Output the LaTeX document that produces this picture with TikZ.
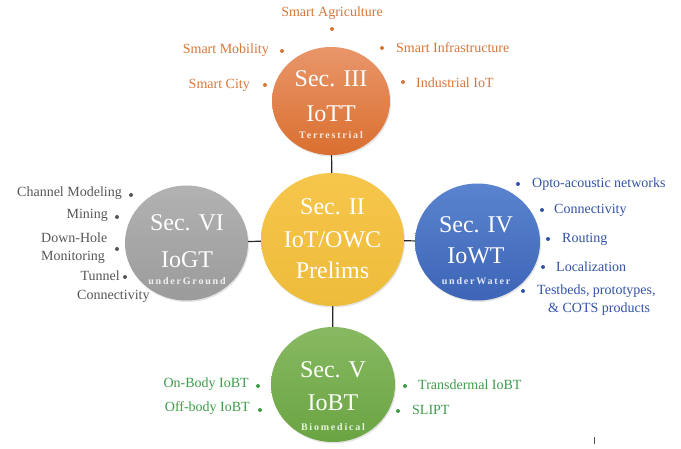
\documentclass[tikz,border=0pt]{standalone}
\usepackage{fontspec}
\setmainfont{Liberation Serif}
\usetikzlibrary{shapes.geometric,shadows}

\definecolor{orTop}{HTML}{E9966A}
\definecolor{orBot}{HTML}{DA6F2F}
\definecolor{yeTop}{HTML}{F6C64C}
\definecolor{yeBot}{HTML}{EEBC3A}
\definecolor{grTop}{HTML}{B2B2B2}
\definecolor{grBot}{HTML}{9B9B9B}
\definecolor{blTop}{HTML}{5A84CF}
\definecolor{blBot}{HTML}{3D64B6}
\definecolor{gnTop}{HTML}{88B962}
\definecolor{gnBot}{HTML}{6AA442}
\definecolor{orText}{HTML}{D6773C}
\definecolor{grText}{HTML}{575757}
\definecolor{blText}{HTML}{3253A6}
\definecolor{gnText}{HTML}{3E9C4A}

\begin{document}
\begin{tikzpicture}[x=1pt,y=-1pt,
  hub/.style={ellipse, inner sep=0pt,
    drop shadow={opacity=0.22,shadow xshift=1pt,shadow yshift=-1.5pt}},
  sectxt/.style={anchor=base, inner sep=0pt, text=white,
    font=\fontsize{24}{28}\selectfont},
  subtxt/.style={anchor=base, inner sep=0pt, text=white, text opacity=0.85,
    font=\fontsize{10}{12}\selectfont\bfseries\addfontfeature{LetterSpace=18}},
  lbl/.style={inner sep=0pt, font=\fontsize{14}{16}\selectfont},
  lblL/.style={lbl, anchor=base east},
  lblR/.style={lbl, anchor=base west},
  lblC/.style={lbl, anchor=base},
  dot/.style={circle, inner sep=0pt, minimum size=4pt},
  link/.style={draw=black!85, line width=1.2pt}]

\useasboundingbox[fill=white] (0,0) rectangle (681,449);

% section bubbles
\node[hub, top color=orTop, bottom color=orBot, minimum width=118pt, minimum height=108pt] (iott) at (331,101) {};
\node[hub, top color=yeTop, bottom color=yeBot, minimum width=143pt, minimum height=133pt] (prel) at (332.5,239.5) {};
\node[hub, top color=grTop, bottom color=grBot, minimum width=123pt, minimum height=115pt] (iogt) at (186.5,243) {};
\node[hub, top color=blTop, bottom color=blBot, minimum width=125pt, minimum height=117pt] (iowt) at (477.5,242) {};
\node[hub, top color=gnTop, bottom color=gnBot, minimum width=124pt, minimum height=115pt] (iobt) at (333,384.5) {};

% links from the preliminaries hub
\draw[link] (prel) -- (iott);
\draw[link] (prel) -- (iogt);
\draw[link] (prel) -- (iowt);
\draw[link] (prel) -- (iobt);

% bubble titles
\node[sectxt] (t3a) at (331,87) {Sec. III};
\node[sectxt] (t3b) at (331,122) {IoTT};
\node[subtxt] (t3c) at (331,139) {Terrestrial};

\node[sectxt] (t2a) at (332.5,215) {Sec. II};
\node[sectxt] (t2b) at (332.5,248) {IoT/OWC};
\node[sectxt] (t2c) at (332.5,279) {Prelims};

\node[sectxt] (t6a) at (187,231) {Sec. VI};
\node[sectxt] (t6b) at (187,268) {IoGT};
\node[subtxt] (t6c) at (187,285) {underGround};

\node[sectxt] (t4a) at (476,233) {Sec. IV};
\node[sectxt] (t4b) at (476,264) {IoWT};
\node[subtxt] (t4c) at (476,285) {underWater};

\node[sectxt] (t5a) at (333,378) {Sec. V};
\node[sectxt] (t5b) at (333,411) {IoBT};
\node[subtxt] (t5c) at (333,431) {Biomedical};

% terrestrial topics
\begin{scope}[every node/.append style={text=orText}]
\node[lblC] (o1) at (332,17) {Smart Agriculture};
\node[dot, fill=orText] (o1d) at (332,29) {};
\node[lblL] (o2) at (269,54) {Smart Mobility};
\node[dot, fill=orText] (o2d) at (282,51) {};
\node[lblL] (o3) at (250,89) {Smart City};
\node[dot, fill=orText] (o3d) at (265,85) {};
\node[lblR] (o4) at (396,53) {Smart Infrastructure};
\node[dot, fill=orText] (o4d) at (382,48) {};
\node[lblR] (o5) at (416,88) {Industrial IoT};
\node[dot, fill=orText] (o5d) at (403,82) {};
\end{scope}

% underground topics
\begin{scope}[every node/.append style={text=grText}]
\node[lblL] (g1) at (122,197) {Channel Modeling};
\node[dot, fill=grText] (g1d) at (131,195) {};
\node[lblL] (g2) at (108,219) {Mining};
\node[dot, fill=grText] (g2d) at (117,217) {};
\node[lblR] (g3a) at (41,243) {Down-Hole};
\node[lblR] (g3b) at (41,261) {Monitoring};
\node[dot, fill=grText] (g3d) at (117,249) {};
\node[lblL] (g4a) at (120,281) {Tunnel};
\node[dot, fill=grText] (g4d) at (125,277) {};
\node[lblR] (g4b) at (77,300) {Connectivity};
\end{scope}

% underwater topics
\begin{scope}[every node/.append style={text=blText}]
\node[lblR] (b1) at (532,188) {Opto-acoustic networks};
\node[dot, fill=blText] (b1d) at (518,184) {};
\node[lblR] (b2) at (554,214) {Connectivity};
\node[dot, fill=blText] (b2d) at (542,210) {};
\node[lblR] (b3) at (562,243) {Routing};
\node[dot, fill=blText] (b3d) at (548,239) {};
\node[lblR] (b4) at (556,272) {Localization};
\node[dot, fill=blText] (b4d) at (543,267) {};
\node[lblR] (b5a) at (537,295) {Testbeds, prototypes,};
\node[lblR] (b5b) at (548,313) {\& COTS products};
\node[dot, fill=blText] (b5d) at (523,291) {};
\end{scope}

% biomedical topics
\begin{scope}[every node/.append style={text=gnText}]
\node[lblL] (m1) at (249,388) {On-Body IoBT};
\node[dot, fill=gnText] (m1d) at (258,386) {};
\node[lblL] (m2) at (250,412) {Off-body IoBT};
\node[dot, fill=gnText] (m2d) at (260,410) {};
\node[lblR] (m3) at (418,390) {Transdermal IoBT};
\node[dot, fill=gnText] (m3d) at (405,386) {};
\node[lblR] (m4) at (412,415) {SLIPT};
\node[dot, fill=gnText] (m4d) at (398,411) {};
\end{scope}

% small tick mark
\coordinate (tk1) at (594,437);
\coordinate (tk2) at (594,444);
\draw[black!70, line width=0.8pt] (tk1) -- (tk2);
\end{tikzpicture}
\end{document}
